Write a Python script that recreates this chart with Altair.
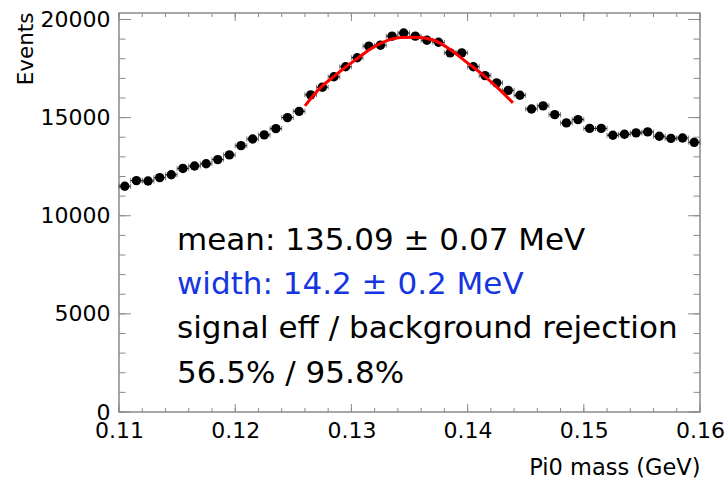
import altair as alt
import pandas as pd

# ---- data ----
bin_centers = [round(0.1105 + 0.001 * i, 4) for i in range(50)]
events = [11500, 11790, 11770, 11940, 12090, 12410, 12535, 12650, 12860, 13100,
          13570, 13910, 14120, 14440, 15000, 15320, 16160, 16550, 17080, 17590,
          18050, 18640, 18690, 19150, 19310, 19150, 18940, 18840, 18300, 18300,
          17590, 17140, 16770, 16390, 16140, 15440, 15600, 15150, 14730, 14900,
          14450, 14450, 14100, 14150, 14220, 14270, 14050, 13940, 13960, 13740]
bin_half = 0.0005

fit_x = [0.1260, 0.1273, 0.12845, 0.1296, 0.1306, 0.1315, 0.13275, 0.1342,
         0.1356, 0.1371, 0.1385, 0.1399, 0.1414, 0.1428, 0.1439]
fit_y = [15600, 16500, 17080, 17620, 18050, 18450, 18850, 19080,
         19100, 18940, 18470, 17830, 17140, 16400, 15750]

x_major = [0.11, 0.12, 0.13, 0.14, 0.15, 0.16]
x_minor = [round(0.11 + 0.002 * i, 3) for i in range(26)]
y_major = [0, 5000, 10000, 15000, 20000]
y_minor = list(range(0, 20001, 1000))

text_lines = ["mean: 135.09 \u00b1 0.07 MeV", "width: 14.2 \u00b1 0.2 MeV",
              "signal eff / background rejection", "56.5% / 95.8%"]
text_y = [8255, 6013, 3771, 1478]
text_x = [0.11499] * 4
text_color = ["#000000", "#1535e0", "#000000", "#000000"]

W, H = 581, 399
XDOM = [0.11, 0.16]
YDOM = [0, 20330]
FRAME = "#8a8a8a"

pts = pd.DataFrame({"m": bin_centers, "n": events})
pts["lo"] = pts["m"] - bin_half
pts["hi"] = pts["m"] + bin_half
fit = pd.DataFrame({"m": fit_x, "n": fit_y})
txt = pd.DataFrame({"m": text_x, "n": text_y, "t": text_lines, "c": text_color})

xs = alt.Scale(domain=XDOM, nice=False, zero=False)
ys = alt.Scale(domain=YDOM, nice=False, zero=False)

xaxis = alt.Axis(values=x_major, format=".2f", ticks=False, domain=False, grid=False,
                 labelFont="DejaVu Sans", labelFontSize=22, labelColor="#000",
                 labelPadding=8, labelFlush=False, labelOverlap=False,
                 title="Pi0 mass (GeV)", titleFont="DejaVu Sans", titleFontSize=22.5,
                 titleFontWeight="normal", titleColor="#000", titleAnchor="end",
                 titleAlign="right", titleX=W, titleY=62, titleBaseline="alphabetic")
yaxis = alt.Axis(values=y_major, format="d", ticks=False, domain=False, grid=False,
                 labelFont="DejaVu Sans", labelFontSize=22, labelColor="#000",
                 labelPadding=9, labelFlush=False, labelOverlap=False,
                 title="Events", titleFont="DejaVu Sans", titleFontSize=21.5,
                 titleFontWeight="normal", titleColor="#000", titleAngle=-90,
                 titleAnchor="end", titleAlign="right", titleX=-87, titleY=-1,
                 titleBaseline="alphabetic")

base_pts = alt.Chart(pts)

hbars = base_pts.mark_rule(color="#000", strokeWidth=1).encode(
    x=alt.X("lo:Q", scale=xs, axis=xaxis), x2="hi:Q",
    y=alt.Y("n:Q", scale=ys, axis=yaxis))
caps_l = base_pts.mark_tick(color="#444", orient="vertical", size=5, thickness=1).encode(
    x=alt.X("lo:Q", scale=xs), y=alt.Y("n:Q", scale=ys))
caps_r = base_pts.mark_tick(color="#444", orient="vertical", size=5, thickness=1).encode(
    x=alt.X("hi:Q", scale=xs), y=alt.Y("n:Q", scale=ys))
dots = base_pts.mark_point(filled=True, shape="circle", size=88, color="#000", opacity=1).encode(
    x=alt.X("m:Q", scale=xs), y=alt.Y("n:Q", scale=ys))

fit_line = alt.Chart(fit).mark_line(color="#ff0000", strokeWidth=3, interpolate="monotone").encode(
    x=alt.X("m:Q", scale=xs), y=alt.Y("n:Q", scale=ys))

texts = alt.Chart(txt).mark_text(align="left", baseline="alphabetic", font="DejaVu Sans",
                                 fontSize=31).encode(
    x=alt.X("m:Q", scale=xs), y=alt.Y("n:Q", scale=ys), text="t:N",
    color=alt.Color("c:N", scale=None))

def xticks(vals, length):
    d = pd.DataFrame({"m": vals})
    bot = alt.Chart(d).mark_rule(color=FRAME, strokeWidth=1).encode(
        x=alt.X("m:Q", scale=xs), y=alt.value(H), y2=alt.value(H - length))
    top = alt.Chart(d).mark_rule(color=FRAME, strokeWidth=1).encode(
        x=alt.X("m:Q", scale=xs), y=alt.value(0), y2=alt.value(length))
    return [bot, top]

def yticks(vals, length):
    d = pd.DataFrame({"n": vals})
    left = alt.Chart(d).mark_rule(color=FRAME, strokeWidth=1).encode(
        y=alt.Y("n:Q", scale=ys), x=alt.value(0), x2=alt.value(length))
    right = alt.Chart(d).mark_rule(color=FRAME, strokeWidth=1).encode(
        y=alt.Y("n:Q", scale=ys), x=alt.value(W), x2=alt.value(W - length))
    return [left, right]

tick_layers = xticks(x_minor, 4) + xticks(x_major, 8) + yticks(y_minor, 6.5) + yticks(y_major, 12)

chart = alt.layer(*tick_layers, hbars, caps_l, caps_r, dots, fit_line, texts).properties(
    width=W, height=H,
    autosize=alt.AutoSizeParams(type="none"),
    padding={"left": 119, "top": 13, "right": 27, "bottom": 69},
    background="white",
).configure_view(stroke=FRAME, strokeWidth=1.5)

chart.save("out.html", embed_options={"renderer": "svg", "actions": False})
